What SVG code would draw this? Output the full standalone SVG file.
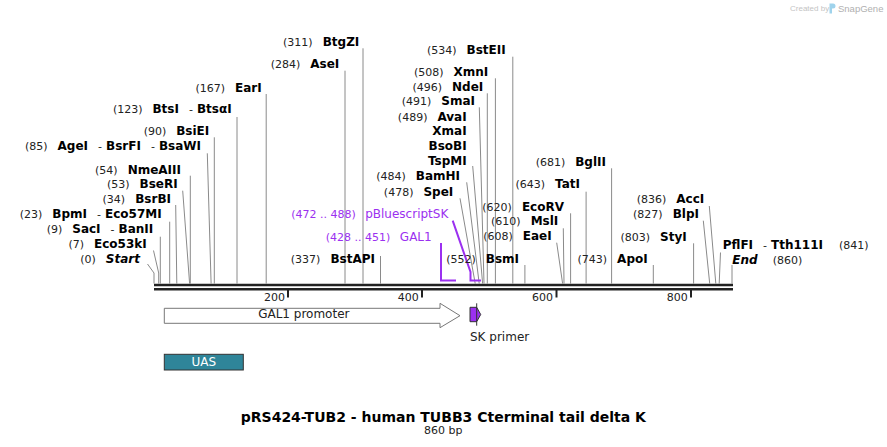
<svg xmlns="http://www.w3.org/2000/svg" width="887" height="447" viewBox="0 0 887 447">
<style>
text{font-family:"DejaVu Sans",Verdana,"Liberation Sans",sans-serif;fill:#111}
.L{font-size:12px;font-weight:bold;text-anchor:end;fill:#000}
.R{font-size:12px;font-weight:bold;fill:#000}
.n{font-size:11px;font-weight:normal;fill:#222}
.i{font-style:italic}
.P{font-size:12px;text-anchor:end;fill:#9b30f0}
.pn{font-size:11px;fill:#9b30f0}
.cl{stroke:#8a8a8a;stroke-width:1;fill:none}
.fl{stroke:#9b30f0;stroke-width:2;fill:none}
.tk{font-size:11px;text-anchor:end;fill:#222}
</style>
<rect width="887" height="447" fill="#fff"/>
<g id="logo">
<text x="790" y="11" style="font-size:8px;fill:#c4c4c4;font-family:'Liberation Sans',sans-serif">Created by</text>
<path d="M829.5 3.5h3.5a2.5 2.5 0 0 1 0 5h-1v5h-2.5z" fill="#9fd3ec"/>
<text x="838" y="11.5" style="font-size:9.5px;fill:#b0b0b0;font-family:'Liberation Sans',sans-serif">SnapGene</text>
</g>
<g id="connectors">
<polyline class="cl" points="147.5,264 154,273 154,283.5"/>
<polyline class="cl" points="153.5,250.5 158.7,273 158.7,283.5"/>
<line class="cl" x1="160.3" y1="236.7" x2="160.3" y2="283.5"/>
<line class="cl" x1="169.7" y1="221.7" x2="169.7" y2="283.5"/>
<line class="cl" x1="175.7" y1="205" x2="176.8" y2="283.5"/>
<line class="cl" x1="182.7" y1="190.7" x2="189.6" y2="283.5"/>
<line class="cl" x1="190.3" y1="175.7" x2="190.3" y2="283.5"/>
<line class="cl" x1="207.3" y1="153.3" x2="211.1" y2="283.5"/>
<line class="cl" x1="214.3" y1="137.3" x2="214.3" y2="283.5"/>
<line class="cl" x1="237" y1="117" x2="237" y2="283.5"/>
<line class="cl" x1="266.2" y1="94" x2="266.2" y2="283.5"/>
<line class="cl" x1="345" y1="70.7" x2="345" y2="283.5"/>
<line class="cl" x1="363" y1="48.3" x2="363" y2="283.5"/>
<line class="cl" x1="380.5" y1="256" x2="380.5" y2="283.5"/>
<line class="cl" x1="460" y1="198.3" x2="475.2" y2="283.5"/>
<line class="cl" x1="466.7" y1="182.3" x2="479.2" y2="283.5"/>
<line class="cl" x1="472.7" y1="166" x2="482.6" y2="283.5"/>
<line class="cl" x1="479.3" y1="107.3" x2="484" y2="283.5"/>
<line class="cl" x1="487.3" y1="93.3" x2="487.3" y2="283.5"/>
<line class="cl" x1="495.4" y1="78.3" x2="495.4" y2="283.5"/>
<line class="cl" x1="512.8" y1="56.7" x2="512.8" y2="283.5"/>
<line class="cl" x1="524.9" y1="265" x2="524.9" y2="283.5"/>
<line class="cl" x1="556.7" y1="242.7" x2="562.6" y2="283.5"/>
<line class="cl" x1="563.3" y1="228.3" x2="564" y2="283.5"/>
<line class="cl" x1="570.6" y1="213.3" x2="570.6" y2="283.5"/>
<line class="cl" x1="586.1" y1="191.7" x2="586.1" y2="283.5"/>
<line class="cl" x1="611.6" y1="168.3" x2="611.6" y2="283.5"/>
<line class="cl" x1="653.3" y1="265" x2="653.3" y2="283.5"/>
<line class="cl" x1="693.6" y1="243.3" x2="693.6" y2="283.5"/>
<line class="cl" x1="703.3" y1="220.7" x2="709.7" y2="283.5"/>
<line class="cl" x1="709.3" y1="206" x2="715.8" y2="283.5"/>
<line class="cl" x1="720.5" y1="252.5" x2="719.2" y2="283.5"/>
<line class="cl" x1="732" y1="265" x2="732" y2="283.5"/>
<polyline class="fl" points="441,243 441,280.5 456,280.5"/>
<polyline class="fl" points="452.7,220.7 470.5,272 470.5,280.5 481,280.5"/>
</g>
<g id="backbone">
<line x1="154" y1="285" x2="733" y2="285" stroke="#222" stroke-width="2.4"/>
<line x1="154" y1="289.3" x2="733" y2="289.3" stroke="#222" stroke-width="2.4"/>
<g stroke="#222" stroke-width="2">
<line x1="288" y1="290" x2="288" y2="297.5"/>
<line x1="422" y1="290" x2="422" y2="297.5"/>
<line x1="556.5" y1="290" x2="556.5" y2="297.5"/>
<line x1="691" y1="290" x2="691" y2="297.5"/>
</g>
<text class="tk" x="285" y="300.5">200</text>
<text class="tk" x="418.8" y="300.5">400</text>
<text class="tk" x="553" y="300.5">600</text>
<text class="tk" x="687.8" y="300.5">800</text>
</g>
<g id="site-Start"><text class="L" x="140" y="263.3"><tspan class="n">(0)</tspan><tspan class="i" dx="10">Start</tspan></text></g>
<g id="site-Eco53kI"><text class="L" x="146.7" y="248.3"><tspan class="n">(7)</tspan><tspan dx="10">Eco53kI</tspan></text></g>
<g id="site-SacI"><text class="L" x="153.3" y="233.3"><tspan class="n">(9)</tspan><tspan dx="10">SacI</tspan><tspan class="n" dx="10">-</tspan><tspan dx="4">BanII</tspan></text></g>
<g id="site-BpmI"><text class="L" x="161.7" y="218.3"><tspan class="n">(23)</tspan><tspan dx="10">BpmI</tspan><tspan class="n" dx="10">-</tspan><tspan dx="4">Eco57MI</tspan></text></g>
<g id="site-BsrBI"><text class="L" x="171" y="203.3"><tspan class="n">(34)</tspan><tspan dx="10">BsrBI</tspan></text></g>
<g id="site-BseRI"><text class="L" x="177.7" y="188.3"><tspan class="n">(53)</tspan><tspan dx="10">BseRI</tspan></text></g>
<g id="site-NmeAIII"><text class="L" x="181" y="174"><tspan class="n">(54)</tspan><tspan dx="10">NmeAIII</tspan></text></g>
<g id="site-AgeI"><text class="L" x="201" y="150"><tspan class="n">(85)</tspan><tspan dx="10">AgeI</tspan><tspan class="n" dx="10">-</tspan><tspan dx="4">BsrFI</tspan><tspan class="n" dx="10">-</tspan><tspan dx="4">BsaWI</tspan></text></g>
<g id="site-BsiEI"><text class="L" x="209.3" y="135"><tspan class="n">(90)</tspan><tspan dx="10">BsiEI</tspan></text></g>
<g id="site-BtsI"><text class="L" x="231.7" y="113.3"><tspan class="n">(123)</tspan><tspan dx="10">BtsI</tspan><tspan class="n" dx="10">-</tspan><tspan dx="4">BtsαI</tspan></text></g>
<g id="site-EarI"><text class="L" x="261.7" y="91.7"><tspan class="n">(167)</tspan><tspan dx="10">EarI</tspan></text></g>
<g id="site-AseI"><text class="L" x="339.3" y="68"><tspan class="n">(284)</tspan><tspan dx="10">AseI</tspan></text></g>
<g id="site-BtgZI"><text class="L" x="359.3" y="46"><tspan class="n">(311)</tspan><tspan dx="10">BtgZI</tspan></text></g>
<g id="site-BstAPI"><text class="L" x="375" y="263.3"><tspan class="n">(337)</tspan><tspan dx="10">BstAPI</tspan></text></g>
<g id="feature-GAL1-label"><text class="P" x="431.7" y="240.7"><tspan class="pn">(428 .. 451)</tspan><tspan dx="9.5">GAL1</tspan></text></g>
<g id="feature-pBluescriptSK-label"><text class="P" x="448.3" y="218.3"><tspan class="pn">(472 .. 488)</tspan><tspan dx="9.5">pBluescriptSK</tspan></text></g>
<g id="site-SpeI"><text class="L" x="453.3" y="195.7"><tspan class="n">(478)</tspan><tspan dx="10">SpeI</tspan></text></g>
<g id="site-BamHI"><text class="L" x="460" y="180"><tspan class="n">(484)</tspan><tspan dx="10">BamHI</tspan></text></g>
<g id="site-AvaI"><text class="L" x="466.7" y="120.5"><tspan class="n">(489)</tspan><tspan dx="10">AvaI</tspan></text><text class="L" x="466.7" y="135">XmaI</text><text class="L" x="466.7" y="150">BsoBI</text><text class="L" x="466.7" y="165">TspMI</text></g>
<g id="site-SmaI"><text class="L" x="475" y="105"><tspan class="n">(491)</tspan><tspan dx="10">SmaI</tspan></text></g>
<g id="site-NdeI"><text class="L" x="483.3" y="90.7"><tspan class="n">(496)</tspan><tspan dx="10">NdeI</tspan></text></g>
<g id="site-XmnI"><text class="L" x="488.3" y="75.7"><tspan class="n">(508)</tspan><tspan dx="10">XmnI</tspan></text></g>
<g id="site-BstEII"><text class="L" x="505.7" y="54"><tspan class="n">(534)</tspan><tspan dx="10">BstEII</tspan></text></g>
<g id="site-BsmI"><text class="L" x="519" y="263.3"><tspan class="n">(552)</tspan><tspan dx="10">BsmI</tspan></text></g>
<g id="site-EaeI"><text class="L" x="551.7" y="240"><tspan class="n">(608)</tspan><tspan dx="10">EaeI</tspan></text></g>
<g id="site-MslI"><text class="L" x="558.3" y="225"><tspan class="n">(610)</tspan><tspan dx="10">MslI</tspan></text></g>
<g id="site-EcoRV"><text class="L" x="564" y="210.7"><tspan class="n">(620)</tspan><tspan dx="10">EcoRV</tspan></text></g>
<g id="site-TatI"><text class="L" x="580" y="188.3"><tspan class="n">(643)</tspan><tspan dx="10">TatI</tspan></text></g>
<g id="site-BglII"><text class="L" x="606" y="166"><tspan class="n">(681)</tspan><tspan dx="10">BglII</tspan></text></g>
<g id="site-ApoI"><text class="L" x="647.7" y="263.3"><tspan class="n">(743)</tspan><tspan dx="10">ApoI</tspan></text></g>
<g id="site-StyI"><text class="L" x="686.7" y="241"><tspan class="n">(803)</tspan><tspan dx="10">StyI</tspan></text></g>
<g id="site-BlpI"><text class="L" x="699" y="218.3"><tspan class="n">(827)</tspan><tspan dx="10">BlpI</tspan></text></g>
<g id="site-AccI"><text class="L" x="704.3" y="203.3"><tspan class="n">(836)</tspan><tspan dx="10">AccI</tspan></text></g>
<g id="site-PflFI"><text class="R" x="722.7" y="249.3">PflFI<tspan class="n" dx="10">-</tspan><tspan dx="4">Tth111I</tspan><tspan class="n" dx="16">(841)</tspan></text></g>
<g id="site-End"><text class="R" x="732.3" y="264"><tspan class="i">End</tspan><tspan class="n" dx="15">(860)</tspan></text></g>
<g id="feature-GAL1-promoter">
<polygon points="164.3,308.3 440,308.3 440,303.3 460,315.7 440,327.7 440,323.3 164.3,323.3" fill="#fff" stroke="#777" stroke-width="1"/>
<text x="303.8" y="318.3" text-anchor="middle" style="font-size:12px;fill:#222">GAL1 promoter</text>
</g>
<g id="feature-SK-primer">
<polygon points="470,307.3 476.7,307.3 480.7,314.5 476.7,321.7 470,321.7" fill="#9b30f0" stroke="#333" stroke-width="1"/>
<line x1="476.7" y1="303.3" x2="476.7" y2="325.7" stroke="#333" stroke-width="1"/>
<text x="470" y="341" style="font-size:12px;fill:#222">SK primer</text>
</g>
<g id="feature-UAS">
<rect x="164.3" y="354.3" width="79" height="15.7" fill="#2f8599" stroke="#333" stroke-width="1"/>
<text x="203.8" y="366" text-anchor="middle" style="font-size:12px;fill:#fff">UAS</text>
</g>
<g id="title">
<text x="443.3" y="421.7" text-anchor="middle" style="font-size:14px;font-weight:bold;fill:#000">pRS424-TUB2 - human TUBB3 Cterminal tail delta K</text>
<text x="443.3" y="433.5" text-anchor="middle" style="font-size:11px;fill:#222">860 bp</text>
</g>
</svg>
